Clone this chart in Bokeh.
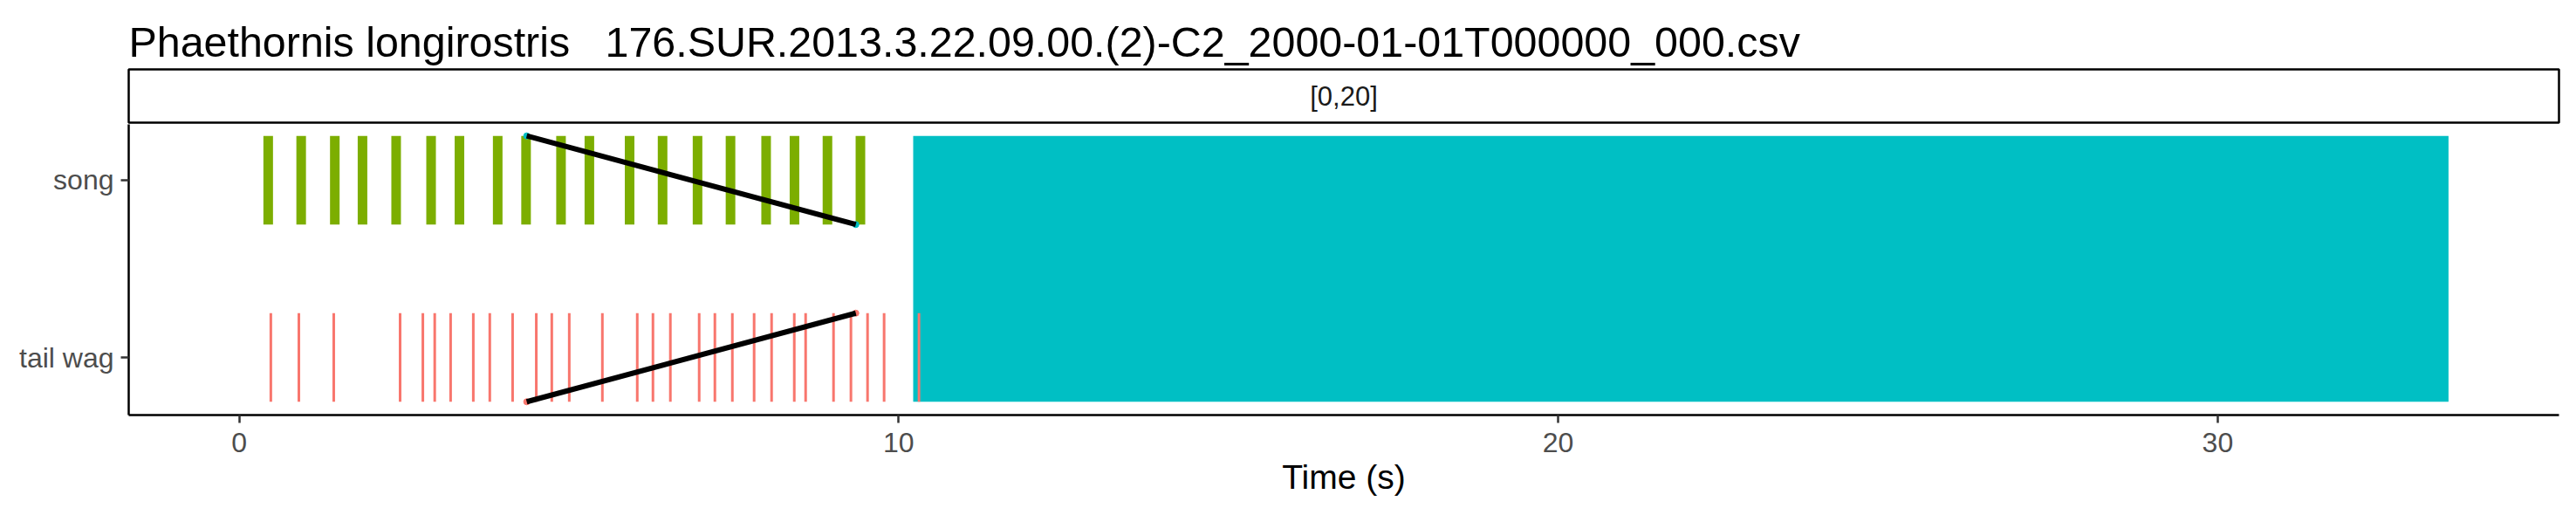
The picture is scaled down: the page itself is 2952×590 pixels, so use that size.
from bokeh.plotting import figure
from bokeh.layouts import column
from bokeh.models import Range1d, FixedTicker
from bokeh.core.properties import value
from bokeh.embed import file_html
from bokeh.resources import INLINE

# ---------------- data ----------------
title_text = "Phaethornis longirostris \u00a0 176.SUR.2013.3.22.09.00.(2)-C2_2000-01-01T000000_000.csv"
strip_label = "[0,20]"
categories = ["tail wag", "song"]          # y positions 1, 2
x_ticks = [0, 10, 20, 30]

song_times = [0.44, 0.94, 1.45, 1.87, 2.38, 2.91, 3.34, 3.92, 4.35, 4.88, 5.31,
              5.92, 6.42, 6.95, 7.45, 7.99, 8.42, 8.92, 9.42]
tailwag_times = [0.48, 0.905, 1.434, 2.44, 2.785, 2.965, 3.206, 3.55, 3.80, 4.146,
                 4.505, 4.74, 5.005, 5.507, 6.036, 6.274, 6.538, 6.975, 7.213, 7.478,
                 7.808, 8.073, 8.417, 8.589, 9.012, 9.276, 9.528, 9.779, 10.308]
block_start = [10.22]
block_end = [33.5]

# connecting lines (song: high -> low ; tail wag: low -> high)
song_line_x = [4.36, 9.35]
song_line_y = [2.25, 1.75]
tail_line_x = [4.36, 9.35]
tail_line_y = [0.75, 1.25]

COL_TAIL = "#F8766D"
COL_SONG = "#7CAE00"
COL_BLOCK = "#00BFC4"
FONT = "Liberation Sans"

W = 2944
LEFT = 147
RIGHT = W - 2932

# ---------------- strip + title figure ----------------
strip = figure(width=W, height=142, x_range=Range1d(0, 1), y_range=Range1d(0, 1),
               output_backend="svg", toolbar_location=None,
               x_axis_location=None, y_axis_location=None,
               min_border_left=LEFT, min_border_right=RIGHT,
               min_border_top=79, min_border_bottom=2)
strip.grid.visible = False
strip.outline_line_color = "black"
strip.outline_line_width = 2.5
strip.background_fill_color = "white"
strip.border_fill_color = "white"
strip.title.text = title_text
strip.title.text_font = FONT
strip.title.text_font_size = "48.4px"
strip.title.text_font_style = "normal"
strip.title.text_color = "black"
strip.title.align = "left"
strip.title.standoff = 10
strip.text(x=[0.5], y=[0.5], text=[strip_label], text_font=value(FONT),
           text_font_size="31px", text_color="#1A1A1A",
           text_align="center", text_baseline="middle")

# ---------------- main panel ----------------
p = figure(width=W, height=440, x_range=Range1d(-1.675, 35.175),
           y_range=Range1d(0.675, 2.315),
           output_backend="svg", toolbar_location=None,
           min_border_left=LEFT, min_border_right=RIGHT,
           min_border_top=0, min_border_bottom=107)
p.grid.visible = False
p.outline_line_color = None
p.background_fill_color = "white"
p.border_fill_color = "white"

# block
p.quad(left=block_start, right=block_end, bottom=[0.75], top=[2.25],
       fill_color=COL_BLOCK, line_color=None)

# tail wag events
p.segment(x0=tailwag_times, y0=[0.75] * len(tailwag_times),
          x1=tailwag_times, y1=[1.25] * len(tailwag_times),
          line_color=COL_TAIL, line_width=3)

# song events
p.segment(x0=song_times, y0=[1.75] * len(song_times),
          x1=song_times, y1=[2.25] * len(song_times),
          line_color=COL_SONG, line_width=11, line_cap="butt")

# end points
p.scatter(song_line_x, song_line_y, size=7, color=COL_BLOCK)
p.scatter(tail_line_x, tail_line_y, size=7, color=COL_TAIL)

# connecting lines
p.line(song_line_x, song_line_y, line_color="black", line_width=6)
p.line(tail_line_x, tail_line_y, line_color="black", line_width=6)

# axes
for ax in (p.xaxis[0], p.yaxis[0]):
    ax.axis_line_color = "black"
    ax.axis_line_width = 2.5
    ax.major_tick_line_color = "#333333"
    ax.major_tick_line_width = 2.5
    ax.major_tick_out = 9
    ax.major_tick_in = 0
    ax.minor_tick_line_color = None
    ax.major_label_text_font = FONT
    ax.major_label_text_font_size = "32px"
    ax.major_label_text_color = "#4D4D4D"

p.yaxis.ticker = FixedTicker(ticks=[1, 2])
p.yaxis.major_label_overrides = {1: categories[0], 2: categories[1]}
p.yaxis.major_label_standoff = 8

p.xaxis.ticker = FixedTicker(ticks=x_ticks)
p.xaxis.major_label_standoff = 11
p.xaxis.axis_label = "Time (s)"
p.xaxis.axis_label_text_font = FONT
p.xaxis.axis_label_text_font_size = "39px"
p.xaxis.axis_label_text_font_style = "normal"
p.xaxis.axis_label_text_color = "black"
p.xaxis.axis_label_standoff = 4

layout = column(strip, p, spacing=0)
open("out.html", "w").write(file_html(layout, INLINE))
